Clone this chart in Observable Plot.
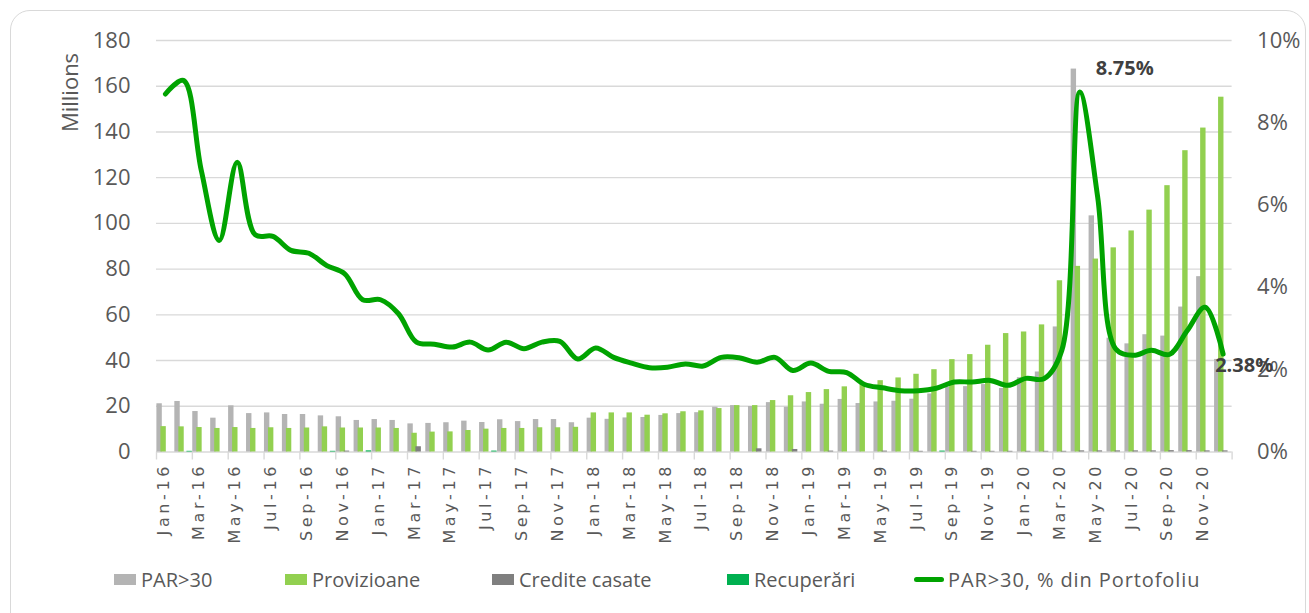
<!DOCTYPE html>
<html>
<head>
<meta charset="utf-8">
<script src="https://cdn.jsdelivr.net/npm/d3@7"></script>
<script src="https://cdn.jsdelivr.net/npm/@observablehq/plot@0.6"></script>
<style>
  body { margin: 0; background: #fff; }
  #wrap { position: relative; width: 1309px; height: 613px; overflow: hidden; font-family: "Open Sans", sans-serif; background: #fff; }
  #frame { position: absolute; left: 10px; top: 10px; width: 1296px; height: 630px; border: 1.5px solid #d9d9d9; border-radius: 20px; box-sizing: border-box; }
  #chart { position: absolute; left: 0; top: 0; }
  #legend { position: absolute; left: 114px; top: 566px; display: grid; grid-template-columns: 171px 207px 235px 185px auto; align-items: center; font-size: 20px; color: #595959; }
  .item { display: flex; align-items: center; white-space: nowrap; }
  .sw { width: 22px; height: 11px; margin-right: 5px; }
  .swl { width: 30px; height: 5px; border-radius: 3px; margin: 0 4px 0 2px; }
  .item.wide span { letter-spacing: 0.9px; }
  svg g[aria-label="x-axis tick label"] text { letter-spacing: 3.6px; }
</style>
</head>
<body>
<div id="wrap">
  <div id="frame"></div>
  <div id="chart"></div>
  <div id="legend"></div>
</div>
<script>
const months = ["Jan-16","Feb-16","Mar-16","Apr-16","May-16","Jun-16","Jul-16","Aug-16","Sep-16","Oct-16","Nov-16","Dec-16",
  "Jan-17","Feb-17","Mar-17","Apr-17","May-17","Jun-17","Jul-17","Aug-17","Sep-17","Oct-17","Nov-17","Dec-17",
  "Jan-18","Feb-18","Mar-18","Apr-18","May-18","Jun-18","Jul-18","Aug-18","Sep-18","Oct-18","Nov-18","Dec-18",
  "Jan-19","Feb-19","Mar-19","Apr-19","May-19","Jun-19","Jul-19","Aug-19","Sep-19","Oct-19","Nov-19","Dec-19",
  "Jan-20","Feb-20","Mar-20","Apr-20","May-20","Jun-20","Jul-20","Aug-20","Sep-20","Oct-20","Nov-20","Dec-20"];

// PAR>30, Millions
const par30 = [21.1,22.1,17.7,14.8,20.2,16.8,17.1,16.4,16.4,15.8,15.4,13.8,
  14.2,13.8,12.3,12.5,12.8,13.5,12.9,14.1,13.3,14.2,14.2,12.8,
  14.8,14.3,14.9,15.1,16.0,16.8,17.2,19.6,20.3,19.9,21.6,19.6,
  21.9,20.9,23.0,21.2,21.9,22.2,23.1,25.4,28.3,28.6,29.5,27.8,
  32.5,35.0,54.7,167.5,103.3,49.8,47.3,51.3,50.7,63.4,76.7,40.5];

// Provizioane, Millions
const provizioane = [11.1,11.0,10.7,10.3,10.7,10.3,10.6,10.3,10.5,11.0,10.5,10.5,
  10.5,10.3,8.2,8.7,8.8,9.4,10.0,10.3,10.3,10.6,10.6,10.8,
  17.1,17.1,17.1,16.1,16.7,17.6,18.0,19.0,20.3,20.3,22.5,24.6,
  26.0,27.3,28.5,30.0,31.2,32.4,34.0,36.0,40.4,42.6,46.7,51.8,
  52.5,55.6,74.9,81.2,84.4,89.3,96.7,105.8,116.5,131.8,141.7,155.2];

// Credite casate, Millions
const casate = [0,0,0,0,0,0,0,0,0,0,0.4,0,
  0,0,2.3,0,0,0,0,0,0,0,0,0,
  0,0,0,0,0,0,0,0,0,1.4,0,1.1,
  0,0.4,0,0,0.4,0,0.3,0,0,0.3,0.3,0.3,
  0.3,0.3,0.3,0.5,0.5,0.5,0.5,0.5,0.6,0.6,0.5,0.5];

// Recuperari, Millions
const recuperari = [0,0.3,0,0,0,0,0,0,0,0.3,0,0.5,
  0,0,0,0,0,0,0.4,0,0,0,0,0,
  0,0,0,0,0,0,0,0,0,0,0,0,
  0,0,0,0,0,0,0,0.4,0,0,0,0,
  0,0,0,0,0,0,0,0,0,0,0,0];

// PAR>30, % din Portofoliu
const parPct = [8.70,9.03,6.84,5.14,7.04,5.28,5.24,4.90,4.83,4.53,4.33,3.70,
  3.70,3.36,2.67,2.62,2.55,2.67,2.48,2.67,2.51,2.67,2.69,2.26,
  2.53,2.30,2.16,2.05,2.06,2.14,2.09,2.30,2.29,2.18,2.30,1.98,
  2.16,1.96,1.93,1.64,1.56,1.49,1.49,1.55,1.70,1.70,1.74,1.62,
  1.79,1.78,2.47,8.75,6.20,2.51,2.35,2.47,2.37,2.95,3.52,2.38];

// months whose % value carries a data label
const peakLabelMonths = ["Apr-20"];
const endLabelMonths = ["Dec-20"];

const yTicks = [0,20,40,60,80,100,120,140,160,180];
const pctTicks = [0,2,4,6,8,10];

const legendItems = [
  {label: "PAR>30", color: "#b4b4b4", type: "bar"},
  {label: "Provizioane", color: "#92d050", type: "bar"},
  {label: "Credite casate", color: "#7f7f7f", type: "bar"},
  {label: "Recuperări", color: "#00b050", type: "bar"},
  {label: "PAR>30, % din Portofoliu", color: "#00a300", type: "line"}
];

const rows = months.map((m, i) => ({month: m, par30: par30[i], prov: provizioane[i], casate: casate[i], recup: recuperari[i], pct: parPct[i]}));

const W = 1309, H = 560;
const plotLeft = 156, plotRight = 1231.6, plotTop = 40, plotBottom = 451.5;
const bw = (plotRight - plotLeft) / months.length;
const k = 180 / 10; // right-axis % -> left-axis units
const evenMonths = months.filter((d, i) => i % 2 === 0);

const chart = Plot.plot({
  width: W, height: H,
  marginLeft: plotLeft, marginRight: W - plotRight, marginTop: plotTop, marginBottom: H - plotBottom,
  style: {fontFamily: "Open Sans", fontSize: "22px", color: "#595959", background: "transparent", overflow: "visible"},
  x: {type: "band", domain: months, padding: 0},
  y: {domain: [0, 180]},
  marks: [
    Plot.gridY({ticks: yTicks, stroke: "#d9d9d9", strokeOpacity: 1, strokeWidth: 1.4}),
    Plot.axisY({ticks: yTicks, tickSize: 0, tickPadding: 26, label: null, fontSize: 22}),
    Plot.axisY({anchor: "right", ticks: pctTicks.map(p => p * k), tickFormat: d => Math.round(d / k) + "%", tickSize: 0, tickPadding: 25, label: null, fontSize: 22}),
    Plot.axisX({ticks: evenMonths, tickSize: 8, tickFormat: () => "", dx: -bw / 2, stroke: "#d9d9d9", strokeWidth: 1.4, label: null}),
    Plot.axisX({ticks: [months[months.length - 1]], tickSize: 8, tickFormat: () => "", dx: bw / 2, stroke: "#d9d9d9", strokeWidth: 1.4, label: null}),
    Plot.axisX({ticks: evenMonths, tickSize: 0, tickPadding: 11, tickRotate: -90, fontFamily: "DejaVu Sans", fontSize: 16, dx: -2, label: null}),
    Plot.barY(rows, {x: "month", y: "par30", fill: "#b4b4b4", insetLeft: 0.4, insetRight: bw - 5.8}),
    Plot.barY(rows, {x: "month", y: "prov", fill: "#92d050", insetLeft: 4.4, insetRight: bw - 9.8}),
    Plot.barY(rows, {x: "month", y: "casate", fill: "#7f7f7f", insetLeft: 8.4, insetRight: bw - 13.9}),
    Plot.barY(rows, {x: "month", y: "recup", fill: "#00b050", insetLeft: 12.5, insetRight: 0}),
    Plot.line(rows, {x: "month", y: d => d.pct * k, stroke: "#00a300", strokeWidth: 5, curve: "catmull-rom", strokeLinecap: "round", strokeLinejoin: "round"}),
    Plot.text(rows.filter(d => peakLabelMonths.includes(d.month)), {x: "month", y: d => d.pct * k, text: d => d.pct.toFixed(2) + "%", dx: 45, dy: -23, fontWeight: "bold", fontSize: 20, fill: "#404040", fontFamily: "Open Sans"}),
    Plot.text(rows.filter(d => endLabelMonths.includes(d.month)), {x: "month", y: d => d.pct * k, text: d => d.pct.toFixed(2) + "%", dx: -8, dy: 12, textAnchor: "start", fontWeight: "bold", fontSize: 20, fill: "#404040", fontFamily: "Open Sans"}),
    Plot.text(["Millions"], {frameAnchor: "top-left", text: d => d, rotate: -90, dx: -94, dy: 52, fontSize: 22, fill: "#595959", textAnchor: "middle"})
  ]
});
document.getElementById("chart").appendChild(chart);

const legend = d3.select("#legend");
for (const it of legendItems) {
  const item = legend.append("div").attr("class", it.type === "line" ? "item wide" : "item");
  item.append("div").attr("class", it.type === "line" ? "swl" : "sw").style("background", it.color);
  item.append("span").text(it.label);
}
</script>
</body>
</html>
